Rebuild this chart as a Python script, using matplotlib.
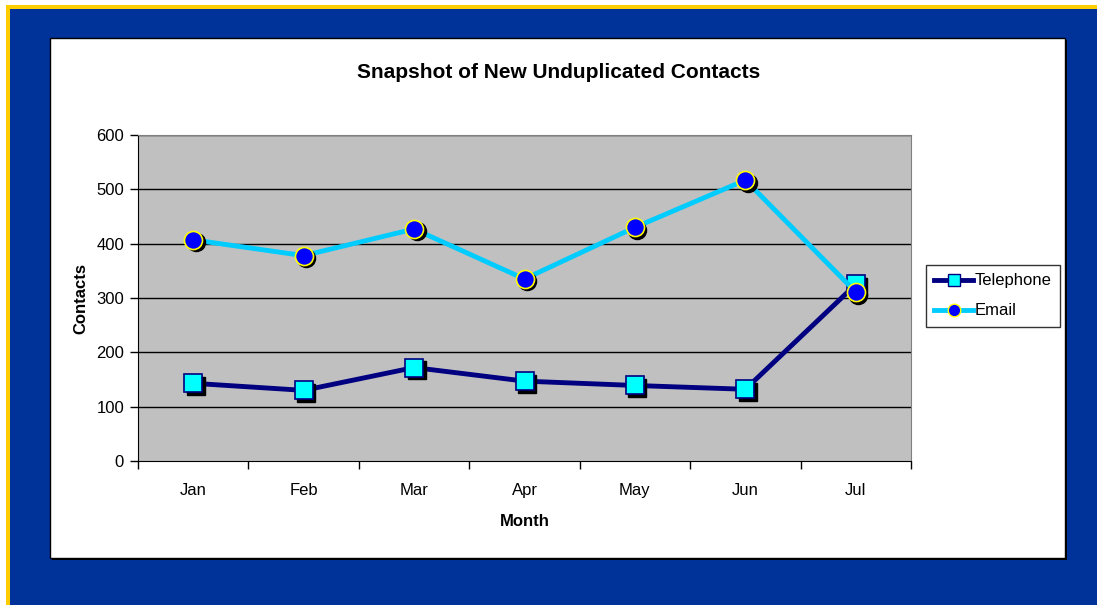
import matplotlib
matplotlib.use("Agg")
import matplotlib.pyplot as plt
import matplotlib.transforms as mtransforms
from matplotlib.patches import Rectangle
from matplotlib.lines import Line2D

months = ["Jan", "Feb", "Mar", "Apr", "May", "Jun", "Jul"]
telephone = [143, 130, 172, 147, 139, 132, 325]
email = [407, 378, 427, 335, 430, 517, 311]
yticks = [0, 100, 200, 300, 400, 500, 600]

plt.rcParams['font.family'] = ['Liberation Sans', 'DejaVu Sans']

W, H = 1097, 605
fig = plt.figure(figsize=(W / 100, H / 100), dpi=100)
fig.patch.set_facecolor('#003399')

def bg_rect(x0, y0, w, h, **kw):
    # rectangle in pixel coords (top-left origin), drawn behind the axes
    r = Rectangle((x0 / W, 1 - (y0 + h) / H), w / W, h / H, transform=fig.transFigure, zorder=-10, **kw)
    fig.add_artist(r)

# white/yellow bevel at top and left
bg_rect(0, 0, W, 5, facecolor='white', edgecolor='none')
bg_rect(0, 0, 6, H, facecolor='white', edgecolor='none')
bg_rect(6, 5, 4, H, facecolor='#FFCC00', edgecolor='none')
bg_rect(6, 5, W, 4, facecolor='#FFCC00', edgecolor='none')

# white chart panel with shadow
bg_rect(51.5, 40, 1015.5, 520, facecolor='black', edgecolor='none')
bg_rect(49.5, 38, 1015.5, 520, facecolor='white', edgecolor='black', linewidth=1)

ax = fig.add_axes([138 / W, 1 - 461 / H, (911 - 138) / W, (461 - 135) / H])
ax.set_facecolor('#C0C0C0')
x = [i + 0.5 for i in range(len(months))]

for y in yticks[1:]:
    ax.axhline(y, color='black', linewidth=1, zorder=1)

shadow = mtransforms.ScaledTranslation(2.5 / 100, -2.5 / 100, fig.dpi_scale_trans)

ax.plot(x, telephone, color='#000080', linewidth=3.5, zorder=3)
ax.plot(x, telephone, linestyle='none', marker='s', markersize=13, color='black',
        transform=ax.transData + shadow, zorder=4)
ax.plot(x, telephone, linestyle='none', marker='s', markersize=13, markerfacecolor='#00FFFF',
        markeredgecolor='#000080', markeredgewidth=1.2, zorder=5)

ax.plot(x, email, color='#00CCFF', linewidth=3.5, zorder=6)
ax.plot(x, email, linestyle='none', marker='o', markersize=13, color='black',
        transform=ax.transData + shadow, zorder=7)
ax.plot(x, email, linestyle='none', marker='o', markersize=13, markerfacecolor='#0000FF',
        markeredgecolor='#FFFF00', markeredgewidth=1.2, zorder=8)

ax.set_xlim(0, len(months))
ax.set_ylim(0, 600)
ax.set_yticks(yticks)
ax.set_yticklabels([str(v) for v in yticks], fontsize=12)
ax.set_xticks(range(len(months) + 1))
ax.set_xticklabels([])
ax.set_xticks(x, minor=True)
ax.set_xticklabels(months, minor=True, fontsize=12)
ax.tick_params(axis='x', which='minor', length=0, pad=16)
ax.tick_params(axis='x', which='major', length=6, direction='out', width=1)
ax.tick_params(axis='y', length=6, direction='out', width=1, pad=4)

for side in ['top', 'right']:
    ax.spines[side].set_color('#808080')
for side in ['left', 'bottom']:
    ax.spines[side].set_color('black')

fig.text(559 / W, 1 - 73 / H, "Snapshot of New Unduplicated Contacts", ha='center', va='center',
         fontsize=15, fontweight='bold')
fig.text(525 / W, 1 - 522 / H, "Month", ha='center', va='center', fontsize=12, fontweight='bold')
fig.text(81 / W, 1 - 298 / H, "Contacts", ha='center', va='center', rotation=90, fontsize=12, fontweight='bold')

handles = [
    Line2D([], [], color='#000080', linewidth=3.5, marker='s', markersize=9,
           markerfacecolor='#00FFFF', markeredgecolor='#000080'),
    Line2D([], [], color='#00CCFF', linewidth=3.5, marker='o', markersize=9,
           markerfacecolor='#0000FF', markeredgecolor='#FFFF00'),
]
leg = fig.legend(handles, ["Telephone", "Email"], loc='upper left',
                 bbox_to_anchor=(926 / W, 1 - 265 / H), frameon=True, fancybox=False,
                 edgecolor='black', fontsize=12, handlelength=2.3, handletextpad=0.1,
                 borderpad=0.5, labelspacing=0.9, borderaxespad=0)
leg.get_frame().set_linewidth(1)

fig.savefig("out.png", dpi=100, facecolor=fig.get_facecolor())
